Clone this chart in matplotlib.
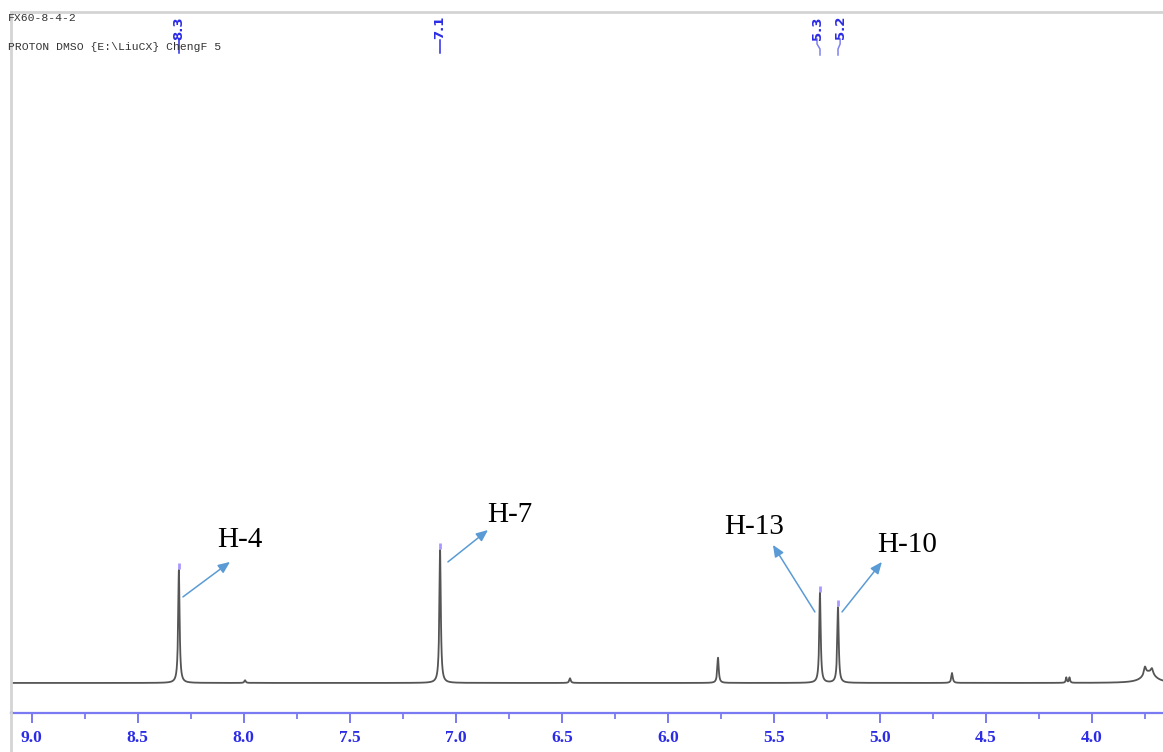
import numpy as np
import matplotlib
matplotlib.use("Agg")
import matplotlib.pyplot as plt
from matplotlib.lines import Line2D
from matplotlib.ticker import MultipleLocator, FormatStrFormatter

# peaks (ppm, relative intensity, half width in ppm)
peak_ppm = [8.306, 7.994, 7.074, 6.461, 5.763, 5.282, 5.197, 4.659, 4.120, 4.105, 3.749, 3.716, 3.73]
peak_int = [85.0, 2.0, 100.0, 3.5, 19.0, 67.7, 57.0, 7.5, 4.0, 4.0, 6.0, 4.0, 8.0]
peak_hw = [0.004, 0.004, 0.004, 0.004, 0.004, 0.004, 0.004, 0.004, 0.003, 0.003, 0.006, 0.006, 0.035]

# labelled peaks (top blue labels)
label_text = ["8.3", "7.1", "5.3", "5.2"]
label_ppm = [8.306, 7.074, 5.296, 5.187]
marked_ppm = [8.306, 7.074, 5.282, 5.197]
marked_int = [85.0, 100.0, 67.7, 57.0]

# proton assignments: text, text pos, arrow tail, arrow head
assign_text = ["H-4", "H-7", "H-13", "H-10"]
assign_pos = [(8.018, 107.5), (6.744, 126.3), (5.593, 117.3), (4.872, 103.8)]
arrow_tail = [(8.287, 64.7), (7.037, 91.0), (5.306, 53.4), (5.178, 53.4)]
arrow_head = [(8.065, 91.0), (6.848, 115.0), (5.504, 103.8), (4.99, 91.0)]

W, H = 1163, 752
fig = plt.figure(figsize=(W / 100, H / 100), dpi=100)
ax = fig.add_axes([11 / W, 39 / H, 1 - 11 / W, (713 - 12) / H])

x = np.arange(3.60, 9.15, 0.0004)
y = np.zeros_like(x)
for p, a, g in zip(peak_ppm, peak_int, peak_hw):
    y += a * g ** 2 / ((x - p) ** 2 + g ** 2)
ax.plot(x, y, color="#555555", lw=1.3)

# purple peak-pick marks
for p, a in zip(marked_ppm, marked_int):
    ax.plot([p, p], [a + 0.5, a + 5.0], color="#a898ff", lw=2, solid_capstyle="butt")

ax.set_xlim(9.098, 3.664)
ax.set_ylim(-22.6, 504.5)

blue = "#2c2ce6"
for s in ["right"]:
    ax.spines[s].set_visible(False)
ax.spines["top"].set_color("#d4d4d4")
ax.spines["top"].set_linewidth(2)
ax.spines["left"].set_color("#d4d4d4")
ax.spines["left"].set_linewidth(2)
ax.spines["bottom"].set_color("#7a7af2")
ax.spines["bottom"].set_linewidth(1.6)
fig.add_artist(Line2D([11 / W, 11 / W], [0, 39 / H], color="#d4d4d4", lw=2))

ax.xaxis.set_major_locator(MultipleLocator(0.5))
ax.xaxis.set_minor_locator(MultipleLocator(0.25))
ax.xaxis.set_major_formatter(FormatStrFormatter("%.1f"))
ax.tick_params(axis="x", which="major", direction="out", length=7, width=1.3,
               color="#6f6ff0", pad=5, labelcolor=blue)
ax.tick_params(axis="x", which="minor", direction="out", length=4, width=1.2, color="#6f6ff0")
ax.set_yticks([])
for lab in ax.get_xticklabels():
    lab.set_fontfamily("Liberation Serif")
    lab.set_fontweight("bold")
    lab.set_fontsize(12.5)

# header text
fig.text(8 / W, 1 - 18 / H, "FX60-8-4-2", family="Liberation Mono", fontsize=8.2,
         color="#333333", va="center", ha="left")
fig.text(8 / W, 1 - 47 / H, "PROTON DMSO {E:\\LiuCX} ChengF 5", family="Liberation Mono",
         fontsize=8.2, color="#333333", va="center", ha="left")

# top peak labels
def fy(px):
    return (713 - px) / 701

for t, lp, mp in zip(label_text, label_ppm, marked_ppm):
    ax.text(lp, fy(16), t, rotation=90, ha="center", va="top", fontsize=9.5,
            fontweight="bold", color=blue, transform=ax.get_xaxis_transform(), clip_on=False)
    if abs(lp - mp) < 0.005:
        ax.plot([lp, lp], [fy(40), fy(53)], color=blue, lw=1.1,
                transform=ax.get_xaxis_transform(), clip_on=False)
    else:
        ax.plot([lp, lp, mp, mp], [fy(39), fy(44), fy(49), fy(55)], color="#8080f0", lw=1.1,
                transform=ax.get_xaxis_transform(), clip_on=False)

# assignment arrows and labels
for t, pos, tail, head in zip(assign_text, assign_pos, arrow_tail, arrow_head):
    ax.annotate("", xy=head, xytext=tail,
                arrowprops=dict(arrowstyle="-|>,head_length=0.7,head_width=0.3",
                                color="#5b9bd5", lw=1.1, shrinkA=0, shrinkB=0))
    ax.text(pos[0], pos[1], t, ha="center", va="center", fontsize=21,
            family="Liberation Serif", color="black")

fig.savefig("out.png", dpi=100)
